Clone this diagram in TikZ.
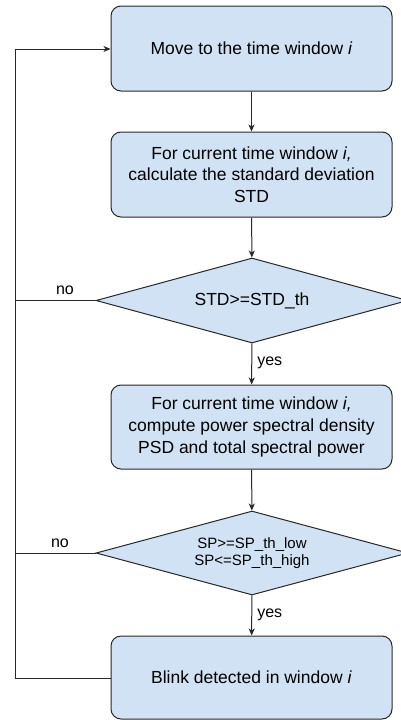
\documentclass[tikz,border=0pt]{standalone}
\usepackage{fontspec}
\setmainfont{Liberation Sans}
\usetikzlibrary{shapes.geometric,arrows.meta}
\definecolor{boxfill}{RGB}{208,226,243}
\definecolor{edge}{RGB}{40,40,40}
\tikzset{
  procbox/.style={draw=edge, fill=boxfill, line width=1pt, rounded corners=10pt,
    minimum width=281pt, inner sep=0pt, align=center,
    font=\fontsize{17.5}{21.7}\selectfont},
  decision/.style={draw=edge, fill=boxfill, line width=1pt, diamond, aspect=3.67,
    minimum width=312pt, inner sep=0pt, align=center},
  flow/.style={draw=edge, line width=1pt, -{Stealth[length=7pt,width=6pt,inset=2pt]}},
  plain/.style={draw=edge, line width=1pt},
  lbl/.style={font=\fontsize{16}{19}\selectfont, inner sep=0pt}
}
\begin{document}
\begin{tikzpicture}[x=1pt,y=-1pt]
  \useasboundingbox (0,0) rectangle (401,720);
  \clip (0,0) rectangle (401,720);

  \node[procbox, minimum height=85pt] (b1) at (251.5,48.5) {Move to the time window \textit{i}};
  \node[procbox, minimum height=85pt] (b2) at (251.5,174.5)
    {For current time window \textit{i,}\\calculate the standard deviation\\STD};
  \node[decision, minimum height=85pt, font=\fontsize{17.5}{21.7}\selectfont] (d1) at (252,300.5) {STD>=STD\_th};
  \node[procbox, minimum height=84pt] (b3) at (251.5,427)
    {For current time window \textit{i,}\\compute power spectral density\\PSD and total spectral power};
  \node[decision, minimum height=84pt, font=\fontsize{15}{16.7}\selectfont] (d2) at (252,553)
    {SP>=SP\_th\_low\\SP<=SP\_th\_high};
  \node[procbox, minimum height=83pt] (b4) at (251.5,677.5) {Blink detected in window \textit{i}};

  % main flow
  \draw[flow] (b1) -- (b2);
  \draw[flow] (b2) -- (d1);
  \draw[flow] (d1) -- node[lbl, right=5pt, pos=0.48] (y1) {yes} (b3);
  \draw[flow] (b3) -- (d2);
  \draw[flow] (d2) -- node[lbl, right=5pt, pos=0.48] (y2) {yes} (b4);

  % loop back to the next window
  \coordinate (lb) at (15,678);
  \coordinate (lt) at (15,49);
  \coordinate (n1) at (15,300.5);
  \coordinate (n2) at (15,553);
  \draw[flow] (b4.west |- lb) -- (lb) -- (lt) -- (b1.west |- lt);
  \draw[plain] (d1.west) -- (n1);
  \draw[plain] (d2.west) -- (n2);
  \node[lbl] (no1) at (65,290) {no};
  \node[lbl] (no2) at (60,543) {no};
\end{tikzpicture}
\end{document}
